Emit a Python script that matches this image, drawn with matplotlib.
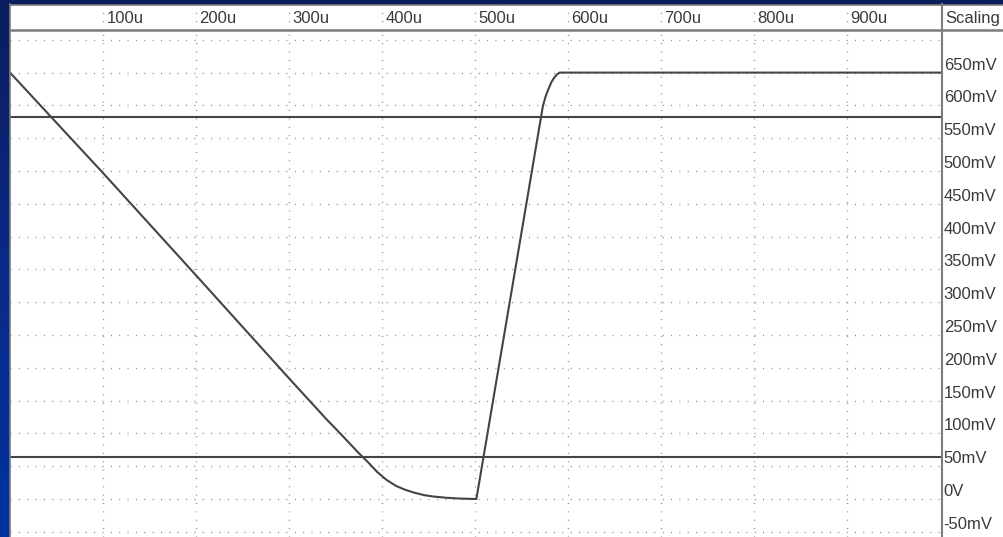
import numpy as np
import matplotlib
matplotlib.use('Agg')
import matplotlib.pyplot as plt
from matplotlib.lines import Line2D
from matplotlib.colors import LinearSegmentedColormap

# trace (time in us, voltage in mV)
t_us = [0, 100, 200, 300, 340, 355, 365, 375, 385, 395, 405, 415, 425, 435, 445,
        455, 470, 485, 501.5, 573, 576, 579, 582, 585, 588, 591, 1002]
v_mv = [650, 497, 341, 184, 122, 100, 85, 70, 56, 41, 29, 20, 14, 9.5, 6,
        3.8, 1.8, 0.6, 0, 599, 614, 625, 635, 642, 647, 650, 650]

cursor_levels = [582, 64]          # the two horizontal cursors
x_ticks = [100, 200, 300, 400, 500, 600, 700, 800, 900]
x_labels = ['100u', '200u', '300u', '400u', '500u', '600u', '700u', '800u', '900u']
y_ticks = list(range(-50, 701, 50))
y_labels = ['-50mV', '0V', '50mV', '100mV', '150mV', '200mV', '250mV', '300mV',
            '350mV', '400mV', '450mV', '500mV', '550mV', '600mV', '650mV']

W, H = 1004, 537
plt.rcParams['lines.scale_dashes'] = False
dot = (0, (0.72, 5.3))
grid_c = '#8a8a8a'
border_c = '#7c7c7c'
trace_c = '#444444'
text_c = '#3a3a3a'
font = 'Liberation Sans'
fs = 12

fig = plt.figure(figsize=(W/100, H/100), dpi=100)

# blue backdrop
bg = fig.add_axes([0, 0, 1, 1])
grad = np.linspace(0, 1, 256).reshape(-1, 1)
cmap = LinearSegmentedColormap.from_list('bg', ['#0a1d5c', '#0a2a88', '#0033a0'])
bg.imshow(grad, cmap=cmap, aspect='auto', extent=[0, 1, 0, 1], origin='upper')
bg.axis('off')

def fx(px): return px / W
def fy(py): return 1 - py / H

xlim = (0, 932 / 0.93)
ylim = ((499 - 537) / 0.656, (499 - 31) / 0.656)

# white panel behind everything
panel = fig.add_axes([fx(10), 0, fx(994), fy(5)])
panel.set_facecolor('white')
panel.set_xticks([]); panel.set_yticks([])
for s in panel.spines.values():
    s.set_visible(False)

# main plot
ax = fig.add_axes([fx(10), 0, fx(932), 506 / H])
ax.set_xlim(xlim); ax.set_ylim(ylim)
ax.patch.set_alpha(0)
for xt in x_ticks:
    ax.axvline(xt, color=grid_c, lw=1, ls=dot, zorder=1)
for yt in y_ticks:
    ax.axhline(yt, color=grid_c, lw=1, ls=dot, zorder=1)
for c in cursor_levels:
    ax.axhline(c, color=trace_c, lw=1.5, zorder=2)
ax.plot(t_us, v_mv, color=trace_c, lw=1.5, zorder=3)
ax.set_xticks([]); ax.set_yticks([])
for s in ax.spines.values():
    s.set_visible(False)

# header row with time labels
hd = fig.add_axes([fx(10), fy(30), fx(932), 25 / H])
hd.set_xlim(xlim); hd.set_ylim(0, 1)
hd.patch.set_alpha(0)
for xt, lab in zip(x_ticks, x_labels):
    hd.axvline(xt, color=grid_c, lw=1, ls=dot)
    hd.annotate(lab, xy=(xt, 0.5), xytext=(2.6, -0.5), textcoords='offset points',
                va='center', ha='left', fontsize=fs, color=text_c, family=font)
hd.set_xticks([]); hd.set_yticks([])
for s in hd.spines.values():
    s.set_visible(False)
fig.text(fx(945), fy(18.5), 'Scaling', va='center', ha='left', fontsize=fs,
         color=text_c, family=font)

# scaling column
sc = fig.add_axes([fx(942), 0, fx(62), 506 / H])
sc.set_ylim(ylim); sc.set_xlim(0, 1)
sc.patch.set_alpha(0)
for yt, lab in zip(y_ticks, y_labels):
    sc.annotate(lab, xy=(0, yt), xytext=(1.2, 5.4), textcoords='offset points',
                va='center', ha='left', fontsize=fs, color=text_c, family=font)
sc.axis('off')

# borders
def hline(py, x0, x1, lw):
    fig.add_artist(Line2D([fx(x0), fx(x1)], [fy(py), fy(py)], color=border_c, lw=lw))

def vline(px, y0, y1, lw):
    fig.add_artist(Line2D([fx(px), fx(px)], [fy(y0), fy(y1)], color=border_c, lw=lw))

hline(4.5, 10, 1004, 1.2)
hline(29.8, 10, 1004, 1.8)
vline(10.2, 4, 537, 1.2)
vline(942, 4, 537, 1.5)

fig.savefig('out.png', dpi=100)
